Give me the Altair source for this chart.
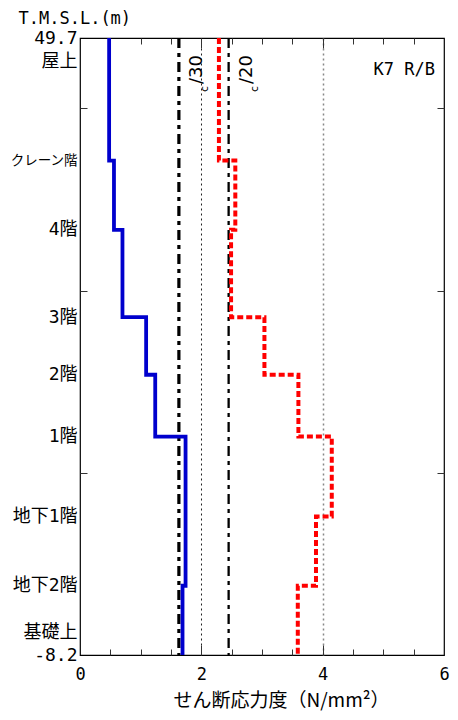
import altair as alt
import pandas as pd

# ---- data ----
levels = [49.7, 38.2, 31.7, 23.5, 18.1, 12.3, 4.8, -1.7, -8.2]
blue_vals = [0.48, 0.56, 0.70, 1.09, 1.24, 1.74, 1.74, 1.69]
red_vals = [2.29, 2.56, 2.49, 3.04, 3.60, 4.15, 3.89, 3.59]
thr_vals = [1.63, 2.45]
thr_labels = ["/30", "/20"]
floor_pos = [49.7, 47.5, 38.2, 31.7, 23.5, 18.1, 12.3, 4.8, -1.7, -6.1, -8.2]
floor_labels = ["49.7", "屋上", "クレーン階", "4階", "3階", "2階", "1階",
                "地下1階", "地下2階", "基礎上", "-8.2"]
x_label_ticks = [0, 2, 4, 6]
x_minor_ticks = [0.5, 1, 1.5, 2, 2.5, 3, 3.5, 4, 4.5, 5, 5.5]
y_minor_ticks = [8.9, 26.0, 43.1]
tag_text = "K7 R/B"

FONT = "DejaVu Sans Mono, Noto Sans CJK JP"
W, H = 364, 617


def profile(vals):
    rows = []
    for i, v in enumerate(vals):
        rows.append({"x": v, "y": levels[i], "o": 2 * i})
        rows.append({"x": v, "y": levels[i + 1], "o": 2 * i + 1})
    return pd.DataFrame(rows)


blue_df = profile(blue_vals)
red_df = profile(red_vals)
thr_df = pd.DataFrame({"v": thr_vals, "lab": thr_labels, "top": [levels[0]] * len(thr_vals)})

xs = alt.Scale(domain=[0, 6], nice=False, zero=False)
ys = alt.Scale(domain=[levels[-1], levels[0]], nice=False, zero=False)

label_expr = " : ".join(
    f"datum.value == {p} ? '{t}'" for p, t in zip(floor_pos, floor_labels)
) + " : ''"

tick_cond = {"condition": {"test": "datum.value % 2 === 0", "value": 10}, "value": 6}

x_axis_main = alt.Axis(
    orient="bottom", values=x_label_ticks, ticks=False, domain=False,
    labelPadding=11, labelFontSize=17, labelFont=FONT, labelColor="#000",
    labelFlush=False, labelOverlap=False,
    title="せん断応力度（N/mm²）", titleFont="Noto Sans CJK JP", titleFontSize=19,
    titleFontWeight="normal", titleColor="#000", titleX=201, titleY=45,
    titleAlign="center", titleBaseline="middle",
    grid=True,
    gridColor={"condition": {"test": "datum.value == 4", "value": "#888"}, "value": "#222"},
    gridOpacity={"condition": {"test": "datum.value == 0 || datum.value == 6", "value": 0}, "value": 1},
    gridWidth={"condition": {"test": "datum.value == 4", "value": 1.5}, "value": 1},
    gridDash=[2, 3],
)
y_axis_main = alt.Axis(
    orient="left", values=floor_pos, labelExpr=label_expr, ticks=False, domain=False,
    grid=False, labelPadding=3, labelFont=FONT, labelColor="#000",
    labelFontSize={"condition": {"test": "datum.value == 38.2", "value": 13.5}, "value": 18},
    labelBaseline="middle", labelFlush=False, labelOverlap=False,
    title="T.M.S.L.(m)", titleAngle=0, titleX=-62, titleY=-15, titleAlign="left",
    titleBaseline="alphabetic", titleFont=FONT, titleFontSize=17,
    titleFontWeight="normal", titleColor="#000",
)


def tick_axis(orient, offset, values, size):
    return alt.Axis(orient=orient, offset=offset, values=values, labels=False,
                    domain=False, grid=False, title=None, tickSize=size,
                    tickColor="#333", tickWidth=1)


rules = alt.Chart(thr_df).mark_rule(color="black", strokeDash=[10, 5, 4, 5]).encode(
    x=alt.X("v:Q", scale=xs, axis=None),
    strokeWidth=alt.condition("datum.v < 2", alt.value(3.2), alt.value(2.3)),
)

red = alt.Chart(red_df).mark_line(color="#FF0000", strokeWidth=4, strokeDash=[6, 3],
                                  strokeCap="butt").encode(
    x=alt.X("x:Q", scale=xs, axis=tick_axis("top", -H, x_minor_ticks, tick_cond)),
    y=alt.Y("y:Q", scale=ys, axis=tick_axis("right", -W, y_minor_ticks, 7)),
    order="o:Q",
)

blue = alt.Chart(blue_df).mark_line(color="#0000CD", strokeWidth=3.8,
                                    strokeJoin="miter").encode(
    x=alt.X("x:Q", scale=xs, axis=x_axis_main),
    y=alt.Y("y:Q", scale=ys, axis=y_axis_main),
    order="o:Q",
)

ghost = alt.Chart(blue_df).mark_line(opacity=0).encode(
    x=alt.X("x:Q", scale=xs, axis=tick_axis("bottom", -H, x_minor_ticks, tick_cond)),
    y=alt.Y("y:Q", scale=ys, axis=tick_axis("left", -W, y_minor_ticks, 7)),
    order="o:Q",
)

thr_text = alt.Chart(thr_df).mark_text(angle=270, align="left", baseline="alphabetic",
                                       dx=-46, dy=23, fontSize=18, font="DejaVu Sans",
                                       color="#000").encode(
    x=alt.X("v:Q", scale=xs, axis=None),
    y=alt.Y("top:Q", scale=ys, axis=None),
    text="lab:N",
)
thr_sub = alt.Chart(thr_df).mark_text(angle=270, align="left", baseline="alphabetic",
                                      dx=-54, dy=29, fontSize=11, font="DejaVu Sans",
                                      color="#000", text="c").encode(
    x=alt.X("v:Q", scale=xs, axis=None),
    y=alt.Y("top:Q", scale=ys, axis=None),
)

tag = alt.Chart(pd.DataFrame({"t": [tag_text]})).mark_text(
    align="right", baseline="alphabetic", dx=-9, dy=37, fontSize=17, font=FONT,
    color="#000").encode(
    x=alt.X(datum=6, scale=xs, axis=None),
    y=alt.Y(datum=levels[0], scale=ys, axis=None),
    text="t:N",
)

chart = alt.layer(rules, red, blue, ghost, thr_text, thr_sub, tag).resolve_axis(
    x="independent", y="independent"
).properties(
    width=W, height=H,
    padding={"left": 72, "top": 30, "right": 6, "bottom": 57},
    autosize=alt.AutoSizeParams(type="none"),
).configure_view(stroke="#000", strokeWidth=1.2)

chart.save("out.html", embed_options={"renderer": "svg", "actions": False})
